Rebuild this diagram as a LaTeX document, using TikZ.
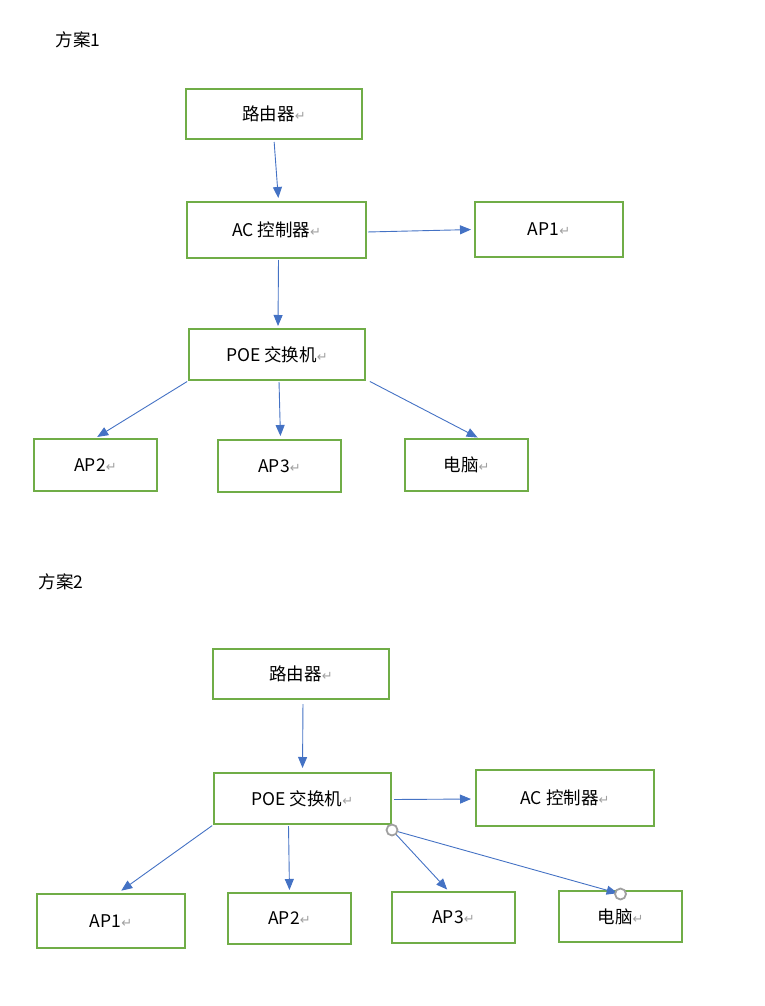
\documentclass[tikz,border=0pt]{standalone}
\usepackage{fontspec}
\setmainfont{Noto Sans CJK SC}
\newfontfamily\symfont{DejaVu Sans}
\usetikzlibrary{arrows.meta}
\definecolor{boxgreen}{HTML}{70AD47}
\definecolor{arrowblue}{HTML}{4472C4}
\definecolor{markgray}{HTML}{A0A0A0}
\newcommand{\pmark}{{\symfont\fontsize{13}{14}\selectfont\color{markgray}↵}}
\begin{document}
\begin{tikzpicture}[x=1pt,y=-1pt,
  box/.style={draw=boxgreen,line width=2pt,inner sep=0pt,font=\fontsize{17.5}{20}\selectfont},
  title/.style={inner sep=0pt,font=\fontsize{17.5}{20}\selectfont},
  conn/.style={draw=arrowblue,line width=0.9pt,-{Triangle[length=11pt,width=9pt]}},
  plain/.style={draw=arrowblue,line width=0.9pt},
  ring/.style={circle,draw=markgray,line width=1.8pt,fill=white,minimum size=11pt,inner sep=0pt}]
\useasboundingbox (0,0) rectangle (764,1006);
% ---------- Scheme 1
\node[title] (t1) at (78,40) {方案1};
\node[box,minimum width=176pt,minimum height=50pt] (r1) at (274,114) {路由器\pmark};
\node[box,minimum width=179pt,minimum height=56pt] (ac1) at (276.5,230) {AC 控制器\pmark};
\node[box,minimum width=148pt,minimum height=55pt] (ap11) at (549,229.5) {AP1\pmark};
\node[box,minimum width=176pt,minimum height=51pt] (poe1) at (277,354.5) {POE 交换机\pmark};
\node[box,minimum width=123pt,minimum height=52pt] (ap12) at (95.5,465) {AP2\pmark};
\node[box,minimum width=123pt,minimum height=52pt] (ap13) at (279.5,466) {AP3\pmark};
\node[box,minimum width=123pt,minimum height=52pt] (pc1) at (466.5,465) {电脑\pmark};
\draw[conn,shorten <=2pt,shorten >=3pt] (r1.south) -- ([xshift=2pt]ac1.north);
\draw[conn,shorten <=1pt,shorten >=3pt] ([yshift=-2pt]ac1.east) -- (ap11.west);
\draw[conn,shorten <=1pt,shorten >=2pt] ([xshift=2pt]ac1.south) -- ([xshift=1pt]poe1.north);
\draw[conn,shorten <=1pt,shorten >=2pt] (poe1.south west) -- (ap12.north);
\draw[conn,shorten <=1pt,shorten >=3pt] ([xshift=2pt]poe1.south) -- ([xshift=1pt]ap13.north);
\draw[conn,shorten <=1pt,shorten >=1pt] ([xshift=3pt]poe1.south east) -- ([xshift=12pt]pc1.north);
% ---------- Scheme 2
\node[title] (t2) at (61,582) {方案2};
\node[box,minimum width=176pt,minimum height=50pt] (r2) at (301,674) {路由器\pmark};
\node[box,minimum width=177pt,minimum height=51pt] (poe2) at (302.5,798.5) {POE 交换机\pmark};
\node[box,minimum width=178pt,minimum height=56pt] (ac2) at (565,798) {AC 控制器\pmark};
\node[box,minimum width=148pt,minimum height=54pt] (ap21) at (111,921) {AP1\pmark};
\node[box,minimum width=123pt,minimum height=51pt] (ap22) at (289.5,918.5) {AP2\pmark};
\node[box,minimum width=123pt,minimum height=51pt] (ap23) at (453.5,917.5) {AP3\pmark};
\node[box,minimum width=123pt,minimum height=51pt] (pc2) at (620.5,916.5) {电脑\pmark};
\draw[conn,shorten <=4pt,shorten >=4pt] ([xshift=2pt]r2.south) -- (poe2.north);
\draw[conn,shorten <=2pt,shorten >=4pt] ([yshift=-1pt]poe2.east) -- ([yshift=-1pt]ac2.west);
\draw[conn,shorten <=1pt,shorten >=4pt] (poe2.south west) -- ([xshift=7pt]ap21.north);
\draw[conn,shorten <=1pt,shorten >=2pt] ([xshift=-14pt]poe2.south) -- (ap22.north);
\coordinate (c1) at ([yshift=-5pt]poe2.south east);
\coordinate (c2) at ([yshift=-4pt]pc2.north);
\draw[conn,shorten >=2pt] (c1) -- ([xshift=-5pt]ap23.north);
\draw[conn,shorten >=3pt] (c1) -- (c2);
\node[ring] at (c1) {};
\node[ring] at (c2) {};
\end{tikzpicture}
\end{document}
